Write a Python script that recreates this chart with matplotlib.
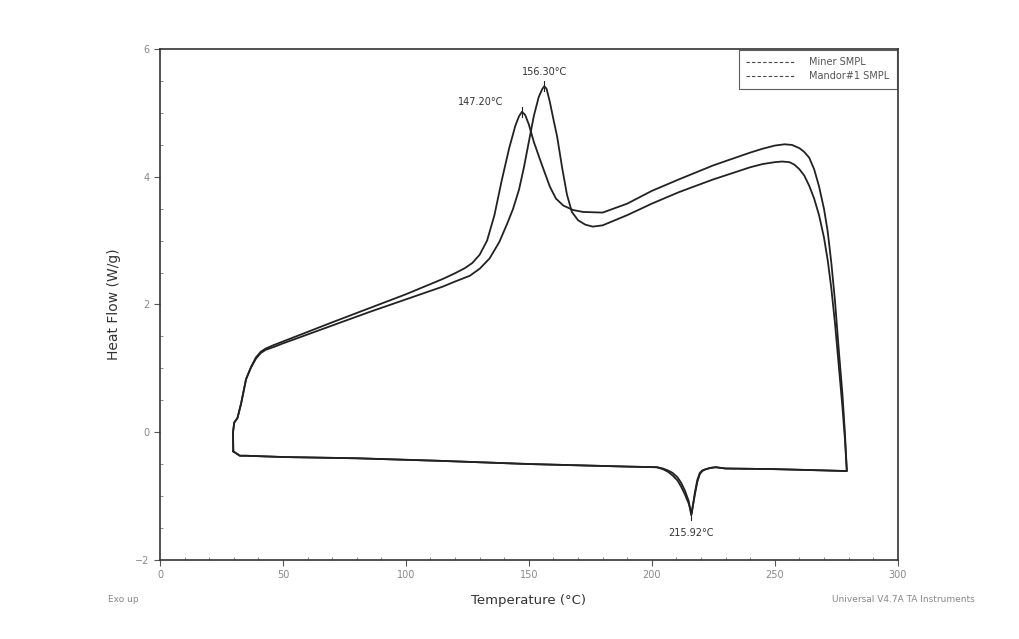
import matplotlib
matplotlib.use("Agg")
import matplotlib.pyplot as plt
from matplotlib.lines import Line2D
from matplotlib.ticker import MultipleLocator

# ---- data ----
miner_T = [29.8, 29.7, 30.2, 31.5, 33, 35, 37, 39, 41, 43, 46, 50, 60, 70, 85, 100, 115, 120,
           124, 127, 130, 133, 136, 139, 142, 144.5, 146, 147.2, 148.5, 150, 152, 155, 158.5,
           161, 164, 168, 172, 180, 190, 200, 211, 225, 240, 245, 250, 254, 257, 260, 262, 264,
           266, 268, 270, 271.5, 273, 274.5, 276, 277.5, 278.5, 279.3,
           # cooling
           270, 250, 230, 226, 224, 222, 220.5, 219.5, 218.5, 217.5, 216.2, 215, 213.5, 212,
           210.5, 208.5, 206.5, 204.5, 202, 190, 150, 114, 80, 50, 35, 32.5, 30.5, 29.8]
miner_HF = [-0.30, 0.00, 0.15, 0.22, 0.45, 0.83, 1.02, 1.17, 1.26, 1.31, 1.36, 1.42, 1.57, 1.72,
            1.94, 2.16, 2.40, 2.49, 2.57, 2.65, 2.78, 3.00, 3.40, 3.95, 4.45, 4.80, 4.95, 5.02,
            4.97, 4.82, 4.55, 4.22, 3.85, 3.66, 3.55, 3.48, 3.45, 3.44, 3.58, 3.78, 3.96, 4.18,
            4.38, 4.44, 4.49, 4.51, 4.50, 4.45, 4.39, 4.30, 4.12, 3.85, 3.50, 3.15, 2.65, 2.05,
            1.30, 0.60, 0.00, -0.61,
            -0.60, -0.58, -0.57, -0.55, -0.56, -0.58, -0.60, -0.64, -0.75, -0.95, -1.28, -1.12,
            -0.98, -0.86, -0.76, -0.68, -0.62, -0.58, -0.55, -0.54, -0.50, -0.45, -0.41, -0.39,
            -0.37, -0.37, -0.32, -0.30]

mandor_T = [29.8, 29.7, 30.2, 31.5, 33, 35, 37, 39, 41, 43, 46, 50, 60, 70, 85, 100, 115, 120,
            126, 130, 134, 138, 141, 143.5, 146, 148, 150, 152, 154, 155.5, 156.3, 157.2, 158.5,
            160, 161.5, 163.5, 165.5, 167.5, 170, 173, 176, 180, 190, 200, 211, 225, 240, 245,
            250, 253, 256, 258, 260, 262, 264, 266, 268, 270, 271.5, 273, 274.5, 276, 277.5,
            278.5, 279.3,
            # cooling
            270, 250, 230, 226, 224, 222, 220.5, 219.5, 218.5, 217.5, 216.0, 215, 213.5, 212,
            210.5, 208.5, 206.5, 204.5, 202, 190, 150, 114, 80, 50, 35, 32.5, 30.5, 29.8]
mandor_HF = [-0.30, 0.00, 0.15, 0.22, 0.45, 0.83, 1.01, 1.15, 1.24, 1.29, 1.33, 1.39, 1.53, 1.67,
             1.88, 2.08, 2.28, 2.36, 2.45, 2.56, 2.72, 2.98, 3.25, 3.49, 3.80, 4.15, 4.55, 4.95,
             5.25, 5.38, 5.42, 5.38, 5.18, 4.90, 4.63, 4.15, 3.72, 3.45, 3.32, 3.25, 3.22, 3.24,
             3.40, 3.58, 3.76, 3.96, 4.15, 4.20, 4.23, 4.24, 4.23, 4.19, 4.12, 4.02, 3.86, 3.66,
             3.40, 3.05, 2.70, 2.25, 1.70, 1.05, 0.40, -0.10, -0.61,
             -0.60, -0.58, -0.57, -0.55, -0.56, -0.58, -0.61, -0.66, -0.78, -0.98, -1.30, -1.08,
             -0.92, -0.80, -0.71, -0.64, -0.60, -0.57, -0.55, -0.54, -0.50, -0.45, -0.41, -0.39,
             -0.37, -0.37, -0.32, -0.30]

series_names = ["Miner SMPL", "Mandor#1 SMPL"]
peak_labels = ["147.20°C", "156.30°C", "215.92°C"]
peak_T = [147.2, 156.3, 215.92]
peak_HF = [5.02, 5.42, -1.29]
x_ticks = [0, 50, 100, 150, 200, 250, 300]
y_ticks = [-2, 0, 2, 4, 6]

# ---- plot ----
fig = plt.figure(figsize=(10.19, 6.39), dpi=100)
ax = fig.add_axes([0.157, 0.124, 0.724, 0.799])
lc = "#222222"
ax.plot(miner_T, miner_HF, color=lc, lw=1.3)
ax.plot(mandor_T, mandor_HF, color=lc, lw=1.3)

ax.set_xlim(0, 300)
ax.set_ylim(-2, 6)
ax.set_xticks(x_ticks)
ax.set_yticks(y_ticks)
ax.xaxis.set_minor_locator(MultipleLocator(10))
ax.yaxis.set_minor_locator(MultipleLocator(0.5))
ax.tick_params(axis="both", which="major", direction="out", length=4, width=0.8,
               labelsize=7, colors="#555555")
ax.tick_params(axis="both", which="minor", direction="in", length=2, width=0.6, colors="#777777")
ax.tick_params(axis="x", labelcolor="#888888")
ax.tick_params(axis="y", labelcolor="#888888")
for s in ax.spines.values():
    s.set_color("#333333")
    s.set_linewidth(1.2)

ax.set_xlabel("Temperature (°C)", fontsize=9.5, color="#333333", labelpad=10)
ax.set_ylabel("Heat Flow (W/g)", fontsize=10, color="#333333", labelpad=10)

# peak annotations
offsets = [(-30, 7), (0, 10), (0, -13)]
for lab, t, h, (dx, dy) in zip(peak_labels, peak_T, peak_HF, offsets):
    ax.plot([t, t], [h - 0.08, h + 0.08], color=lc, lw=0.8)
    ax.annotate(lab, (t, h), xytext=(dx, dy), textcoords="offset points",
                ha="center", va="center", fontsize=7, color="#333333")

handles = [Line2D([0], [0], color="#444444", lw=0.8, ls=(0, (3, 2))) for _ in series_names]
leg = ax.legend(handles, series_names, loc="upper right", fontsize=7, frameon=True,
                fancybox=False, edgecolor="#333333", borderaxespad=0.1, handlelength=5,
                labelspacing=0.4, handletextpad=1.5, borderpad=0.75)
for t in leg.get_texts():
    t.set_color("#555555")
leg.get_frame().set_linewidth(0.8)

fig.text(0.106, 0.062, "Exo up", fontsize=6.5, color="#888888", va="center")
fig.text(0.957, 0.062, "Universal V4.7A TA Instruments", fontsize=6.5, color="#888888",
         va="center", ha="right")

fig.savefig("out.png", dpi=100)
